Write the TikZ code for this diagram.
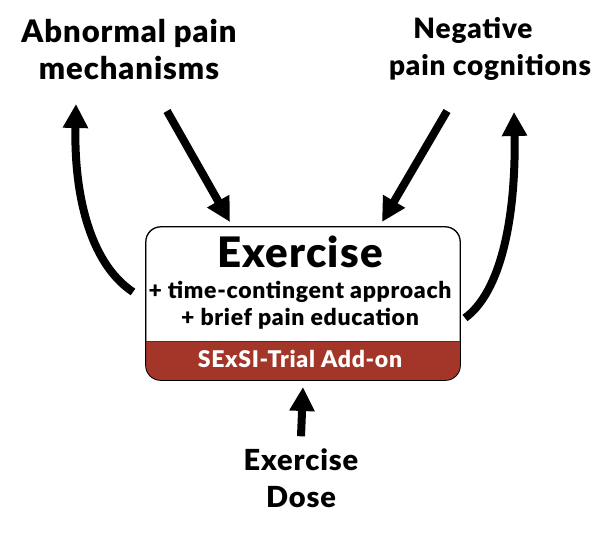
\documentclass[tikz,border=0pt]{standalone}
\usepackage{fontspec}
\setmainfont{Lato}[BoldFont={Lato Black}, LetterSpace=3]
\usetikzlibrary{calc,positioning,arrows.meta}
\definecolor{addonred}{RGB}{163,54,40}

\begin{document}
\begin{tikzpicture}[
  x=1pt,y=-1pt,
  label/.style={font=\fontsize{29}{37}\selectfont\bfseries, align=center, inner sep=0pt},
  arr/.style={line width=8pt, -{Triangle[length=24pt,width=24pt]}},
  ]

  \useasboundingbox (0,0) rectangle (601,534);

  % labels round the box
  \node[label, font=\fontsize{31}{37}\selectfont\bfseries] (abn) at (129,49) {Abnormal pain\\mechanisms};
  \node[label, font=\fontsize{28}{37}\selectfont\bfseries] (neg) at (490,49) {Negative\hspace*{34pt}\\pain cognitions};
  \node[label] (dose) at (301,478) {Exercise\\Dose};

  % the box with its add-on band
  \node[draw, line width=0.8pt, rounded corners=15pt, minimum width=314pt, minimum height=153pt, inner sep=0pt]
    (box) at (303,303.5) {};
  \begin{scope}
    \clip[rounded corners=15pt] (box.north west) rectangle (box.south east);
    \fill[addonred] ($(box.south west)+(0,-39)$) rectangle (box.south east);
    \draw[line width=0.8pt, addonred!70!black] ($(box.south west)+(0,-39)$) -- ($(box.south east)+(0,-39)$);
  \end{scope}
  \draw[line width=0.8pt, rounded corners=15pt] (box.north west) rectangle (box.south east);

  \node[font=\fontsize{42}{44}\selectfont\bfseries, inner sep=0pt, anchor=base] (ex) at (300,267) {Exercise};
  \node[font=\fontsize{23}{27}\selectfont\bfseries, align=center, inner sep=0pt, anchor=north] (extra) at (300,281)
    {+ time-contingent approach\\+ brief pain education};
  \node[font=\fontsize{23}{24}\selectfont\bfseries, text=white, inner sep=0pt, anchor=base] (addon) at (300,367)
    {SExSI-Trial Add-on};

  % connectors
  \coordinate (lfrom) at (133,292);
  \coordinate (lto) at (76,104);
  \coordinate (rfrom) at (465,318);
  \coordinate (rto) at (514,112);
  \draw[arr] (lfrom) .. controls (88,262) and (74,190) .. (lto);
  \draw[arr] (rfrom) .. controls (506,288) and (516,200) .. (rto);
  \draw[arr] (167,111) -- (230,222);
  \draw[arr] (447,111) -- (382,222);
  \draw[arr] (dose.north) ++(0,-12) coordinate (dtop) -- (box.south |- 0,387);

\end{tikzpicture}
\end{document}
